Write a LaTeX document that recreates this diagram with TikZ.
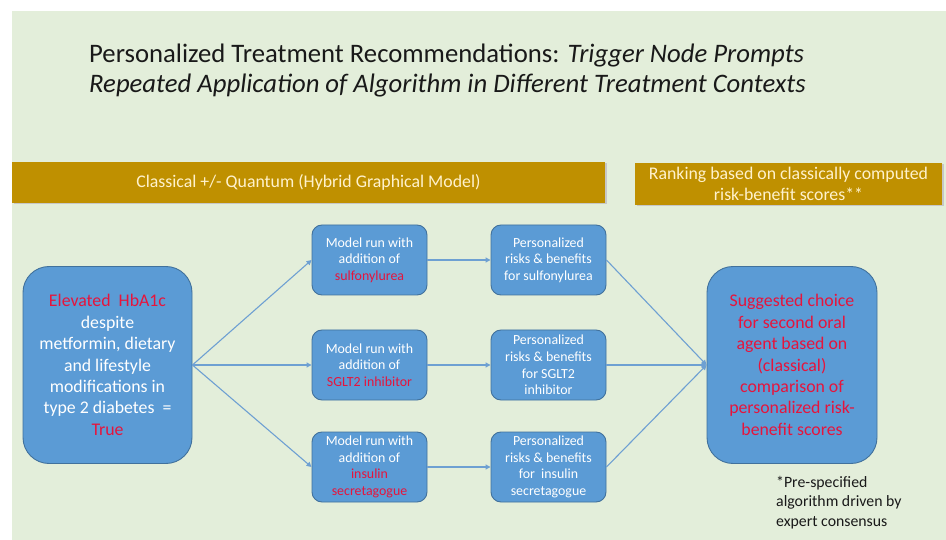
\documentclass[tikz,border=0pt]{standalone}
\usepackage{fontspec}
\setmainfont{Carlito}
\usetikzlibrary{arrows.meta}
\definecolor{bgreen}{RGB}{227,238,218}
\definecolor{gold}{RGB}{191,144,0}
\definecolor{goldtxt}{RGB}{255,242,204}
\definecolor{bfill}{RGB}{91,155,213}
\definecolor{bdraw}{RGB}{65,113,156}
\definecolor{arr}{RGB}{110,160,210}
\definecolor{rtxt}{RGB}{230,20,60}
\definecolor{ttl}{RGB}{25,25,25}
\tikzset{
  box/.style={draw=bdraw, line width=0.9pt, fill=bfill, text=white, align=center, inner sep=0pt},
  smallbox/.style={box, minimum width=115pt, minimum height=70pt, rounded corners=10pt,
     font=\fontsize{13.9}{16.7}\selectfont},
  bigbox/.style={box, minimum width=169pt, minimum height=197pt, rounded corners=26pt,
     font=\fontsize{17.8}{21.4}\selectfont},
  goldbar/.style={fill=gold, text=goldtxt, align=center, inner sep=0pt,
     font=\fontsize{17.8}{21}\selectfont},
  conn/.style={draw=arr, line width=1.1pt, -{Triangle[length=5pt,width=5pt]}},
}
\begin{document}
\begin{tikzpicture}[x=1pt,y=-1pt]
\useasboundingbox (0,0) rectangle (946,540);
\fill[white] (0,0) rectangle (946,540);
\fill[bgreen] (12,11) rectangle (946,540);
% title
\node[anchor=base west, text=ttl, font=\fontsize{26.7}{30}\selectfont, align=left, inner sep=0pt] (title) at (89,93)
 {Personalized Treatment Recommendations: \textit{Trigger Node Prompts}\\
  \textit{Repeated Application of Algorithm in Different Treatment Contexts}};
% gold bars
\fill[black!22] (13.5,163.5) rectangle (606.5,204.5);
\node[goldbar, minimum width=593pt, minimum height=41pt] (bar1) at (308.5,182.5)
 {Classical +/- Quantum (Hybrid Graphical Model)};
\fill[black!22] (636.5,164.5) rectangle (943.5,206.5);
\node[goldbar, minimum width=307pt, minimum height=42pt] (bar2) at (788.5,184)
 {Ranking based on classically computed\\risk-benefit scores**};
% boxes
\node[bigbox] (start) at (107.5,365)
 {\textcolor{rtxt}{Elevated\ \ HbA1c}\\despite\\metformin, dietary\\and lifestyle\\modifications in\\type 2 diabetes\ \ =\\\textcolor{rtxt}{True}};
\node[smallbox] (m1) at (369.5,260) {Model run with\\addition of\\\textcolor{rtxt}{sulfonylurea}};
\node[smallbox] (m2) at (369.5,365) {Model run with\\addition of\\\textcolor{rtxt}{SGLT2 inhibitor}};
\node[smallbox] (m3) at (369.5,467) {Model run with\\addition of\\\textcolor{rtxt}{insulin}\\\textcolor{rtxt}{secretagogue}};
\node[smallbox] (r1) at (548.5,260) {Personalized\\risks \& benefits\\for sulfonylurea};
\node[smallbox] (r2) at (548.5,365) {Personalized\\risks \& benefits\\for SGLT2\\inhibitor};
\node[smallbox] (r3) at (548.5,467) {Personalized\\risks \& benefits\\for\ \ insulin\\secretagogue};
\node[bigbox, minimum width=170pt, text=rtxt] (end) at (792,365)
 {Suggested choice\\for second oral\\agent based on\\(classical)\\comparison of\\personalized risk-\\benefit scores};
% footnote
\node[anchor=base west, align=left, inner sep=0pt, text=ttl, font=\fontsize{15.8}{19.5}\selectfont] (note) at (776,526)
 {*Pre-specified\\algorithm driven by\\expert consensus};
% connectors
\draw[conn] (start.east) -- (m1.west);
\draw[conn] (start.east) -- (m2.west);
\draw[conn] (start.east) -- (m3.west);
\draw[conn] (m1.east) -- (r1.west);
\draw[conn] (m2.east) -- (r2.west);
\draw[conn] (m3.east) -- (r3.west);
\draw[conn] (r1.east) -- (end.west);
\draw[conn] (r2.east) -- (end.west);
\draw[conn] (r3.east) -- (end.west);
\end{tikzpicture}
\end{document}
